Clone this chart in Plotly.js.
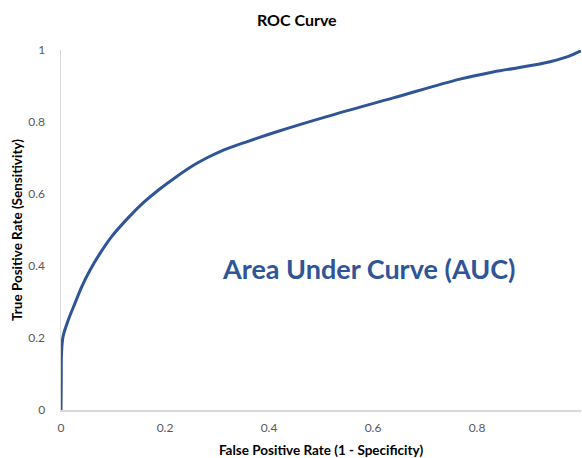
<!DOCTYPE html>
<html>
<head>
<meta charset="utf-8">
<script src="https://cdn.plot.ly/plotly-3.0.1.min.js"></script>
<style>html,body{margin:0;padding:0;background:#fff;}#chart{width:582px;height:458px;}</style>
</head>
<body>
<div id="chart"></div>
<script>
const fpr = [0, 0.0005, 0.001, 0.004, 0.014, 0.027, 0.04, 0.056, 0.075, 0.097, 0.13, 0.16, 0.19, 0.22, 0.254, 0.28, 0.306, 0.357, 0.415, 0.511, 0.639, 0.767, 0.831, 0.927, 0.973, 1.0];
const tpr = [0, 0.08, 0.157, 0.204, 0.25, 0.297, 0.343, 0.389, 0.435, 0.481, 0.535, 0.578, 0.614, 0.646, 0.679, 0.700, 0.718, 0.745, 0.773, 0.815, 0.867, 0.919, 0.939, 0.963, 0.981, 0.998];
const xTicks = [0, 0.2, 0.4, 0.6, 0.8];
const xTickText = ['0', '0.2', '0.4', '0.6', '0.8'];
const yTicks = [0, 0.2, 0.4, 0.6, 0.8, 1];
const yTickText = ['0', '0.2', '0.4', '0.6', '0.8', '1'];
const titleText = 'ROC Curve';
const xTitle = 'False Positive Rate (1 - Specificity)';
const yTitle = 'True Positive Rate (Sensitivity)';
const noteText = 'Area Under Curve (AUC)';

const FONT = 'Lato, "Open Sans", sans-serif';
const trace = {
  x: fpr, y: tpr, type: 'scatter', mode: 'lines',
  line: {color: '#2f5597', width: 3, shape: 'spline', smoothing: 1},
  cliponaxis: false, hoverinfo: 'skip'
};
const layout = {
  width: 582, height: 458,
  margin: {l: 61, r: 1, t: 50, b: 48},
  paper_bgcolor: '#fff', plot_bgcolor: '#fff',
  showlegend: false,
  font: {family: FONT, color: '#595959', size: 12},
  title: {text: '<b>' + titleText + '</b>', x: 0.51, xref: 'container', xanchor: 'center', y: 0.955, yanchor: 'middle',
          font: {family: FONT, size: 16, color: '#000'}},
  xaxis: {range: [0, 1], tickvals: xTicks, ticktext: xTickText, showgrid: false, zeroline: false,
          showline: true, linecolor: '#d9d9d9', linewidth: 1.5, ticks: '', ticklabelstandoff: 6,
          tickfont: {family: FONT, size: 12, color: '#595959'},
          title: {text: '<b>' + xTitle + '</b>', font: {family: FONT, size: 13.5, color: '#000'}, standoff: 11}},
  yaxis: {range: [0, 1], tickvals: yTicks, ticktext: yTickText, showgrid: false, zeroline: false,
          showline: true, linecolor: '#d9d9d9', linewidth: 1.5, ticks: '', ticklabelstandoff: 12,
          tickfont: {family: FONT, size: 12, color: '#595959'},
          title: {text: '<b>' + yTitle + '</b>', font: {family: FONT, size: 13.5, color: '#000'}, standoff: 2}},
  annotations: [{text: '<b>' + noteText + '</b>', x: 0.592, y: 0.394, xref: 'x', yref: 'y',
                 showarrow: false, font: {family: FONT, size: 27, color: '#2f5597'}}]
};
Plotly.newPlot('chart', [trace], layout, {displayModeBar: false, staticPlot: true});
</script>
</body>
</html>
